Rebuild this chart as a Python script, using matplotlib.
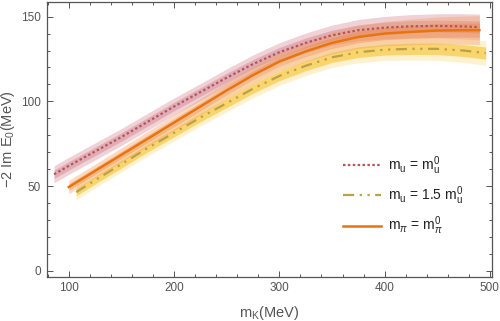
import matplotlib
matplotlib.use('Agg')
import matplotlib.pyplot as plt
import numpy as np

plt.rcParams['font.family'] = ['Liberation Sans', 'DejaVu Sans']
plt.rcParams['mathtext.fontset'] = 'custom'
plt.rcParams['mathtext.rm'] = 'Liberation Sans'
plt.rcParams['mathtext.it'] = 'Liberation Sans:italic'

# m_u = m_u^0 (red, dotted)
red_x = [86, 100, 125, 150, 175, 200, 225, 250, 275, 300, 325, 350, 375, 400, 425, 450, 475, 490]
red_y = [57, 62, 70.5, 79, 88, 97, 105.5, 114, 122, 129, 134.5, 139, 142, 143.5, 144.3, 144.5, 144.2, 143.8]
red_w_out = [5, 5, 5, 5, 5, 5, 5, 5.2, 5.4, 5.6, 5.8, 6, 6.3, 6.6, 6.9, 7.2, 7.5, 7.7]
red_w_in = [2.5, 2.5, 2.5, 2.5, 2.5, 2.5, 2.5, 2.6, 2.7, 2.8, 2.9, 3, 3.1, 3.2, 3.3, 3.4, 3.5, 3.6]

# m_u = 1.5 m_u^0 (yellow, dash-dot)
yel_x = [107, 125, 150, 175, 200, 225, 250, 275, 300, 325, 350, 375, 400, 425, 450, 475, 496]
yel_y = [46.5, 53.5, 63, 72.5, 81.5, 90.5, 99, 107.5, 115, 121, 126, 129, 130.5, 131, 131, 130, 128.5]
yel_w_out = [4.5, 4.5, 4.6, 4.7, 4.8, 5, 5.2, 5.4, 5.6, 5.8, 6, 6.2, 6.4, 6.6, 6.8, 7, 7.2]
yel_w_in = [2.2, 2.2, 2.3, 2.3, 2.4, 2.5, 2.6, 2.7, 2.8, 2.9, 3, 3.1, 3.2, 3.3, 3.4, 3.5, 3.6]

# m_pi = m_pi^0 (orange, solid)
ora_x = [100, 125, 150, 175, 200, 225, 250, 275, 300, 325, 350, 375, 400, 425, 450, 475, 490]
ora_y = [49.5, 59, 68.5, 78, 87.5, 97, 106.5, 115.5, 123.5, 129.5, 134.5, 138, 140, 141, 141.8, 142, 142]
ora_w_out = [4, 4, 4.2, 4.4, 4.6, 4.8, 5, 5.3, 5.6, 6, 6.4, 6.8, 7.2, 7.6, 8, 8.3, 8.5]
ora_w_in = [2, 2, 2.1, 2.2, 2.3, 2.4, 2.5, 2.6, 2.8, 3, 3.2, 3.4, 3.6, 3.8, 4, 4.1, 4.2]

labels = ['m$_\\mathregular{u}$ = m$_\\mathregular{u}^0$',
          'm$_\\mathregular{u}$ = 1.5 m$_\\mathregular{u}^0$',
          'm$_\\pi$ = m$_\\pi^0$']

fig = plt.figure(figsize=(5.0, 3.21), dpi=100)
ax = fig.add_axes([0.0934, 0.138, 0.8896, 0.8567])


def band(x, y, w, color, z):
    x = np.array(x); y = np.array(y); w = np.array(w)
    ax.fill_between(x, y - w, y + w, color=color, lw=0, zorder=z)


band(red_x, red_y, red_w_out, (0.85, 0.55, 0.60, 0.40), 1)
band(red_x, red_y, red_w_in, (0.78, 0.42, 0.48, 0.35), 1)
band(yel_x, yel_y, yel_w_out, (0.99, 0.90, 0.65, 0.55), 2)
band(yel_x, yel_y, yel_w_in, (0.98, 0.80, 0.30, 0.75), 2)
band(ora_x, ora_y, ora_w_out, (0.95, 0.62, 0.38, 0.38), 3)
band(ora_x, ora_y, ora_w_in, (0.93, 0.50, 0.20, 0.35), 3)

ax.plot(red_x, red_y, color='#B9515E', lw=1.6, dashes=(1.1, 1.1), zorder=6, label=labels[0])
ax.plot(yel_x, yel_y, color='#B9A04A', lw=1.6, dashes=(5, 2.5, 1, 2.5, 1, 2.5), zorder=5, label=labels[1])
ax.plot(ora_x, ora_y, color='#E8740F', lw=1.8, zorder=5, label=labels[2])

ax.set_xlim(79, 501.5)
ax.set_ylim(-3.4, 158.8)
ax.set_xticks([100, 200, 300, 400, 500])
ax.set_xticks(np.arange(80, 501, 20), minor=True)
ax.set_yticks([0, 50, 100, 150])
ax.set_yticks(np.arange(0, 151, 10), minor=True)

gray = '#555555'
for s in ax.spines.values():
    s.set_color(gray)
    s.set_linewidth(0.9)
ax.tick_params(which='both', direction='in', top=True, right=True, color=gray,
               labelcolor=gray, labelsize=8.5, width=0.7)
ax.tick_params(which='major', length=4.5, pad=4)
ax.tick_params(which='minor', length=2.5)

ax.set_xlabel('m$_\\mathregular{K}$(MeV)', fontsize=10.5, color=gray, labelpad=7)
ax.set_ylabel('\u22122 Im E$_\\mathregular{0}$(MeV)', fontsize=10.5, color=gray, labelpad=3)

leg = ax.legend(loc='upper left', bbox_to_anchor=(0.667, 0.445), fontsize=10, frameon=False,
                handlelength=2.7, handletextpad=0.5, labelspacing=0.55, borderaxespad=0,
                borderpad=0)
for t in leg.get_texts():
    t.set_color('#222222')

fig.savefig('out.png', dpi=100)
